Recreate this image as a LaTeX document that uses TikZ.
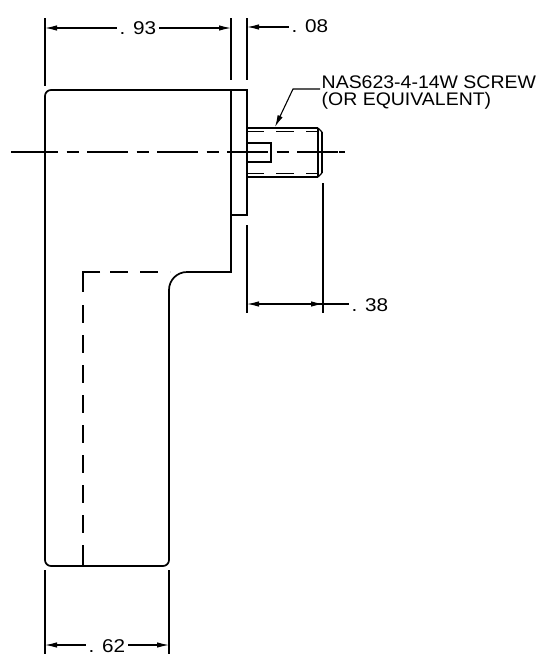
\documentclass[tikz,border=0pt]{standalone}
\usepackage{fontspec}
\setmainfont{Liberation Sans}
\newfontfamily\dimfont[FakeStretch=1.12]{Liberation Sans}
\newfontfamily\notefont[FakeStretch=1.07]{Liberation Sans}
\usetikzlibrary{arrows.meta, positioning}

\begin{document}
\begin{tikzpicture}[
    x=1pt, y=-1pt,
    outline/.style = {line width=1.35pt},
    fillet/.style = {line width=1.7pt, rounded corners=6pt},
    hidden/.style = {line width=1.6pt, dash pattern=on 18pt off 12pt},
    centerLine/.style = {line width=1.1pt, dash pattern=on 41pt off 8.5pt on 12pt off 8.5pt},
    dimLine/.style = {line width=1.1pt, -{Latex[length=12pt, width=5.5pt]}},
    dimText/.style = {font=\dimfont\fontsize{18.5}{20}\selectfont, anchor=base west, inner sep=3pt},
    noteText/.style = {font=\notefont\fontsize{18.2}{20}\selectfont, anchor=base west, inner sep=0pt}
]
\useasboundingbox (0,0) rectangle (540,662);

% body and plate
\draw[outline] (51,90) -- (247,90) -- (247,215) -- (231,215);
\draw[outline] (231,90) -- (231,272) -- (187,272);
\draw[outline] (45,96) -- (45,560);
\draw[outline] (51,566) -- (163,566);
\draw[outline] (169,560) -- (169,290);
\draw[fillet] (51,90) -- (45,90) -- (45,96);
\draw[fillet] (45,560) -- (45,566) -- (51,566);
\draw[fillet] (163,566) -- (169,566) -- (169,560);
\draw[fillet] (169,290) .. controls (169,280) and (177,272) .. (187,272);

% screw
\draw[outline] (247,128) -- (318,128);
\draw[outline] (247,177) -- (318,177);
\draw[outline] (322,132) -- (322,173);
\draw[outline] (318,128) -- (318,177);
\draw[outline] (318,128) -- (322,132);
\draw[outline] (322,173) -- (318,177);
\draw[outline] (247,143) -- (271,143) -- (271,162) -- (247,162);
\draw[hidden] (246,131.5) -- (318,131.5);
\draw[hidden] (246,173.5) -- (318,173.5);

% hidden edges
\draw[outline] (100,272) -- (83,272) -- (83,292);
\draw[hidden] (110,272) -- (170,272);
\draw[hidden] (83,305) -- (83,545);
\draw[outline] (83,545) -- (83,566);

% centre line
\draw[outline] (11,152) -- (17,152);
\draw[centerLine] (17,152) -- (339,152);
\draw[outline] (339,152) -- (345,152);

% extension lines
\draw[outline] (45,18) -- (45,86);
\draw[outline] (231,18) -- (231,80);
\draw[outline] (247,18) -- (247,80);
\draw[outline] (247,225) -- (247,313);
\draw[outline] (323,183) -- (323,313);
\draw[outline] (45,570) -- (45,654);
\draw[outline] (169,570) -- (169,654);

% dimensions
\node(dimWidth)[dimText] at (116.5,34) {. 93};
\draw[dimLine] (dimWidth.west |- 0,28) -- (45,28);
\draw[dimLine] (dimWidth.east |- 0,28) -- (231,28);

\node(dimPlate)[dimText] at (288.5,32) {. 08};
\draw[dimLine] (dimPlate.west |- 0,27) -- (247,27);

\node(dimScrew)[dimText] at (348.5,311) {. 38};
\draw[dimLine] (dimScrew.west |- 0,304) -- (247,304);
\draw[dimLine] (285,304) -- (323,304);

\node(dimFoot)[dimText] at (85.5,652) {. 62};
\draw[dimLine] (dimFoot.west |- 0,645) -- (45,645);
\draw[dimLine] (dimFoot.east |- 0,645) -- (169,645);

% note
\node(noteScrew)[noteText] at (321.5,88) {NAS623-4-14W SCREW};
\node(noteAlt)[noteText] at (321.5,105) {(OR EQUIVALENT)};
\coordinate (noteTip) at (275,127);
\draw[dimLine] (noteScrew.base west) ++(-1.5,1) -- (293,89) -- (noteTip);
\end{tikzpicture}
\end{document}
